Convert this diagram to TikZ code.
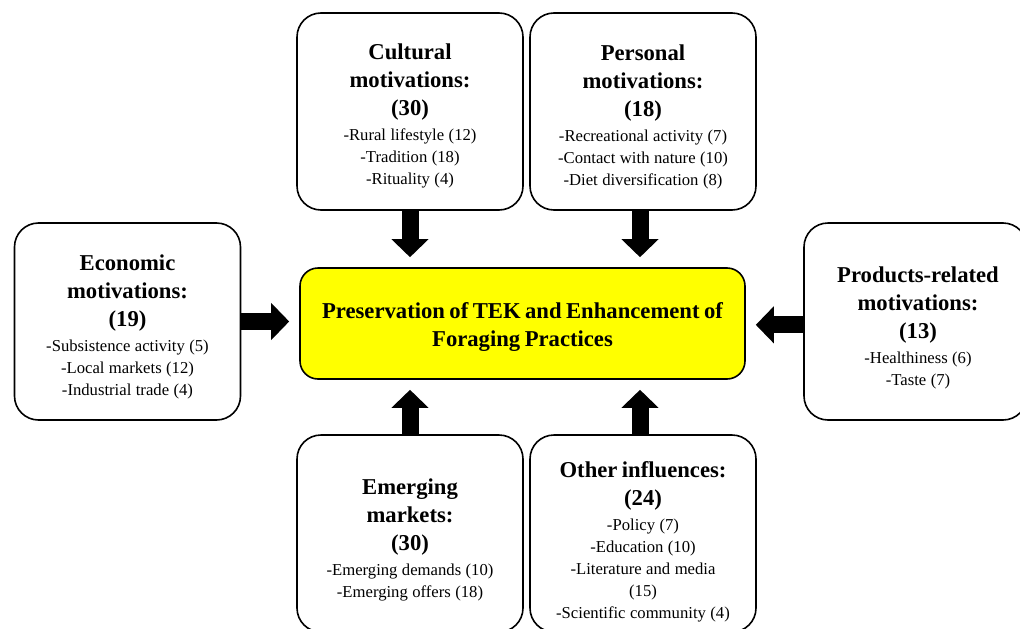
\documentclass[tikz,border=0pt]{standalone}
\usepackage{fontspec}
\setmainfont{Liberation Serif}
\usetikzlibrary{arrows.meta}
\definecolor{ctryellow}{RGB}{255,255,0}
\newcommand{\boxttl}[1]{{\fontsize{17}{21}\selectfont\bfseries #1\par}}
\newcommand{\boxbody}[1]{{\fontsize{12.5}{16.5}\selectfont\vskip 2.25pt #1\par}}
\tikzset{
  mbox/.style={draw=black, line width=1.2pt, rounded corners=18pt, fill=white,
    minimum width=169.5pt, minimum height=147.75pt, inner sep=0pt},
  lbl/.style={align=center, text width=165pt, inner sep=0pt},
  cbox/.style={draw=black, line width=1.2pt, rounded corners=13.5pt, fill=ctryellow,
    minimum width=333.75pt, minimum height=83.25pt, inner sep=0pt},
  blockarrow/.style={line width=12.75pt, -{Triangle[width=27pt,length=13.5pt]}, shorten >=7.5pt}
}
\begin{document}
\begin{tikzpicture}[x=0.75pt,y=-0.75pt]
\useasboundingbox (0,0) rectangle (1020,628);
% boxes
\node[mbox] (cult) at (410,111.5) {};
\node[mbox] (pers) at (643,111.5) {};
\node[mbox] (econ) at (127.5,321.5) {};
\node[mbox, minimum width=167.25pt] (prod) at (915.5,321.5) {};
\node[mbox] (emer) at (410,533.5) {};
\node[mbox] (othr) at (643,533.5) {};
\node[cbox] (ctr) at (522.5,323.5) {};
% texts
\node[lbl] (cultT) at (410,116) {\boxttl{Cultural\\motivations:\\(30)}\boxbody{-Rural lifestyle (12)\\-Tradition (18)\\-Rituality (4)}};
\node[lbl] (persT) at (643,117) {\boxttl{Personal\\motivations:\\(18)}\boxbody{-Recreational activity (7)\\-Contact with nature (10)\\-Diet diversification (8)}};
\node[lbl] (econT) at (127.5,327) {\boxttl{Economic\\motivations:\\(19)}\boxbody{-Subsistence activity (5)\\-Local markets (12)\\-Industrial trade (4)}};
\node[lbl] (prodT) at (918,328) {\boxttl{Products-related\\motivations:\\(13)}\boxbody{-Healthiness (6)\\-Taste (7)}};
\node[lbl] (emerT) at (410,540) {\boxttl{Emerging\\markets:\\(30)}\boxbody{-Emerging demands (10)\\-Emerging offers (18)}};
\node[lbl] (othrT) at (643,541.5) {\boxttl{Other influences:\\(24)}\boxbody{-Policy (7)\\-Education (10)\\-Literature and media\\(15)\\-Scientific community (4)}};
\node[lbl, text width=330pt] (ctrT) at (522.5,327.5) {\boxttl{Preservation of TEK and Enhancement of\\Foraging Practices}};
% arrows
\draw[blockarrow] (cult.south) -- (cult.south |- ctr.north);
\draw[blockarrow] ([xshift=-2.25pt]pers.south) -- ([xshift=-2.25pt]pers.south |- ctr.north);
\draw[blockarrow] (econ.east) -- (econ.east -| ctr.west);
\draw[blockarrow] ([yshift=-2.5pt]prod.west) -- ([yshift=-2.5pt]prod.west -| ctr.east);
\draw[blockarrow] (emer.north) -- (emer.north |- ctr.south);
\draw[blockarrow] ([xshift=-2.25pt]othr.north) -- ([xshift=-2.25pt]othr.north |- ctr.south);
\end{tikzpicture}
\end{document}
